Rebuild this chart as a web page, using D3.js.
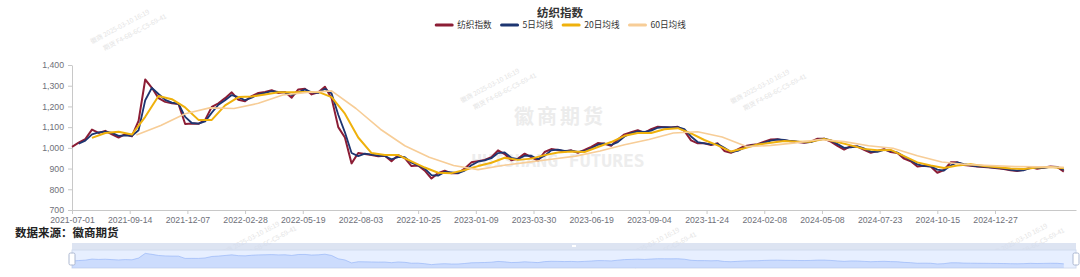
<!DOCTYPE html>
<meta charset="utf-8">
<style>
body { margin: 0; background: #fff; }
svg { display: block; font-family: "Liberation Sans", "Noto Sans CJK SC", sans-serif; }
.axis text { fill: #6e7079; font-size: 8.7px; }
.axis path, .axis line { stroke: #c8c8c8; }
</style>
<svg id="svg" width="1080" height="277"></svg>
<script src="https://d3js.org/d3.v7.min.js"></script>
<script>
// ---- data ----
var seriesNames = ["纺织指数", "5日均线", "20日均线", "60日均线"];
var tickDates = ["2021-07-01", "2021-09-14", "2021-12-07", "2022-02-28", "2022-05-19", "2022-08-03",
  "2022-10-25", "2023-01-09", "2023-03-30", "2023-06-19", "2023-09-04", "2023-11-24",
  "2024-02-08", "2024-05-08", "2024-07-23", "2024-10-15", "2024-12-27"];
var tickEvery = 52;       // trading days between labels
var dayCount = 906;       // trading days on the axis
var yTicks = [700, 800, 900, 1000, 1100, 1200, 1300, 1400];

// index, sampled every 6 trading days from day 0
var indexStart = 0, indexStep = 6;
var indexValues = [1005, 1025, 1042, 1088, 1072, 1082, 1065, 1050, 1066, 1056,
  1130, 1330, 1290, 1240, 1222, 1215, 1212, 1115, 1118, 1116,
  1135, 1198, 1215, 1240, 1268, 1232, 1225, 1250, 1265, 1270,
  1278, 1265, 1270, 1242, 1282, 1285, 1258, 1268, 1295, 1240,
  1100, 1050, 925, 975, 970, 965, 960, 962, 935, 965,
  950, 912, 915, 890, 852, 878, 890, 877, 878, 900,
  930, 936, 942, 955, 988, 970, 940, 948, 972, 955,
  938, 980, 994, 990, 982, 988, 976, 990, 1005, 1023,
  1020, 1010, 1040, 1065, 1075, 1085, 1072, 1090, 1102, 1100,
  1098, 1102, 1082, 1036, 1022, 1022, 1014, 1022, 985, 976,
  992, 1008, 1014, 1018, 1030, 1040, 1042, 1035, 1032, 1028,
  1025, 1030, 1044, 1044, 1030, 1010, 992, 1008, 1006, 990,
  976, 985, 994, 980, 975, 948, 935, 910, 914, 910,
  880, 893, 930, 930, 917, 913, 910, 908, 905, 902,
  898, 892, 888, 894, 907, 899, 905, 910, 908, 885];

var ma5Start = 6, ma5Step = 6;
var ma5Values = [1020, 1035, 1065, 1075, 1078, 1072, 1058, 1060, 1058,
  1085, 1230, 1290, 1260, 1232, 1218, 1213, 1150, 1120, 1117,
  1128, 1170, 1208, 1230, 1255, 1245, 1230, 1242, 1258, 1266,
  1274, 1270, 1268, 1255, 1268, 1282, 1268, 1265, 1285, 1262,
  1160, 1075, 975, 960, 972, 967, 962, 961, 945, 955,
  955, 928, 915, 900, 868, 866, 884, 882, 878, 890,
  916, 933, 940, 950, 975, 978, 952, 945, 962, 962,
  945, 962, 988, 991, 985, 986, 980, 985, 998, 1015,
  1021, 1014, 1028, 1055, 1071, 1080, 1077, 1083, 1097, 1100,
  1099, 1100, 1090, 1055, 1028, 1022, 1017, 1019, 1000, 980,
  985, 1001, 1011, 1016, 1025, 1035, 1041, 1038, 1033, 1030,
  1026, 1028, 1038, 1044, 1036, 1018, 1000, 1002, 1007, 997,
  982, 981, 990, 986, 977, 958, 940, 920, 912, 911,
  895, 890, 915, 930, 922, 915, 911, 909, 906, 903,
  900, 894, 890, 892, 902, 902, 903, 908, 908, 893];

var ma20Start = 18, ma20Step = 12;
var ma20Values = [1048, 1072, 1078, 1064, 1150, 1250, 1235, 1195, 1135, 1135,
  1205, 1245, 1248, 1258, 1268, 1268, 1270, 1270, 1245, 1165,
  1050, 975, 965, 965, 935, 905, 880, 878, 893, 912,
  928, 952, 942, 948, 965, 978, 982, 980, 1004, 1028,
  1058, 1072, 1072, 1090, 1095, 1070, 1038, 1012, 982, 998,
  1016, 1025, 1033, 1030, 1030, 1043, 1028, 1012, 995, 988,
  990, 960, 930, 915, 903, 915, 921, 912, 906, 900,
  898, 905, 907, 902];

var ma60Start = 58, ma60Step = 22;
var ma60Values = [1062, 1108, 1165, 1193, 1190, 1215, 1255, 1268, 1275, 1190,
  1090, 1010, 955, 915, 895, 915, 930, 945, 960, 985,
  1015, 1040, 1072, 1078, 1052, 1006, 1012, 1024, 1040, 1030,
  1010, 998, 962, 932, 920, 914, 910, 908, 906];

// ---- layout ----
var svg = d3.select("svg");
var plotLeft = 72, plotRight = 1076, plotTop = 65, plotBottom = 210;
var colors = ["#8c1d35", "#1d3571", "#efb10c", "#f7cd97"];
var widths = [2, 1.8, 2, 1.6];

var x = d3.scaleLinear().domain([0, dayCount - 1]).range([plotLeft, plotRight]);
var y = d3.scaleLinear().domain([700, 1400]).range([plotBottom, plotTop]);

function toPoints(start, step, values) {
  return values.map(function(v, i) { return { day: start + i * step, value: v }; });
}
var series = [
  toPoints(indexStart, indexStep, indexValues),
  toPoints(ma5Start, ma5Step, ma5Values),
  toPoints(ma20Start, ma20Step, ma20Values),
  toPoints(ma60Start, ma60Step, ma60Values)
];

// ---- watermarks ----
var wm = svg.append("g").attr("class", "watermark");
wm.append("text").attr("x", 560).attr("y", 124).attr("text-anchor", "middle")
  .style("font-family", "'Noto Sans CJK SC'").style("font-weight", 700)
  .style("font-size", "20px").style("fill", "#ececec").style("letter-spacing", "3px")
  .text("徽商期货");
wm.append("text").attr("x", 558).attr("y", 167).attr("text-anchor", "middle")
  .style("font-family", "'DejaVu Sans Mono'").style("font-weight", 700)
  .style("font-size", "18px").style("fill", "#ededed")
  .text("HUISHANG FUTURES");
var stamps = [[92, 44], [462, 103], [732, 104], [222, 256], [622, 262], [990, 258]];
stamps.forEach(function(p) {
  var g = wm.append("g").attr("transform", "translate(" + p[0] + "," + p[1] + ") rotate(-28)");
  g.append("text").attr("x", 0).attr("y", 0).style("font-size", "6.5px").style("fill", "#e4e4e4")
    .style("font-family", "'Noto Sans CJK SC'").text("徽商    2025-03-10    16:19");
  g.append("text").attr("x", 8).attr("y", 12).style("font-size", "6.5px").style("fill", "#e4e4e4")
    .style("font-family", "'Noto Sans CJK SC'").text("期货    F4-6B-6C-C5-69-41");
});

// ---- axes ----
svg.append("g").attr("class", "axis")
  .attr("transform", "translate(0," + plotBottom + ")")
  .call(d3.axisBottom(x)
    .tickValues(tickDates.map(function(d, i) { return i * tickEvery; }))
    .tickFormat(function(d, i) { return tickDates[i]; })
    .tickSize(4).tickSizeOuter(0).tickPadding(3));

svg.append("g").attr("class", "axis")
  .attr("transform", "translate(" + plotLeft + ",0)")
  .call(d3.axisLeft(y).tickValues(yTicks).tickFormat(d3.format(","))
    .tickSize(4).tickSizeOuter(0).tickPadding(4));

// ---- lines ----
var line = d3.line()
  .x(function(d) { return x(d.day); })
  .y(function(d) { return y(d.value); })
  .curve(d3.curveLinear);

svg.append("g").selectAll("path")
  .data(series)
  .enter().append("path")
  .attr("d", line)
  .attr("fill", "none")
  .attr("stroke", function(d, i) { return colors[i]; })
  .attr("stroke-width", function(d, i) { return widths[i]; })
  .attr("stroke-linejoin", "round");

// ---- title & legend ----
svg.append("text").attr("x", 560).attr("y", 17).attr("text-anchor", "middle")
  .style("font-family", "'Noto Sans CJK SC'").style("font-weight", 700)
  .style("font-size", "11.5px").style("fill", "#333")
  .text("纺织指数");

var legend = svg.append("g").attr("transform", "translate(0,25)");
var items = legend.selectAll("g").data(seriesNames).enter().append("g");
items.append("line").attr("x1", 0).attr("x2", 16).attr("y1", 0).attr("y2", 0)
  .attr("stroke", function(d, i) { return colors[i]; }).attr("stroke-width", 3)
  .attr("stroke-linecap", "round");
items.append("text").attr("x", 21).attr("y", 3.2)
  .style("font-family", "'Noto Sans CJK SC'").style("font-size", "8.6px").style("fill", "#333")
  .text(function(d) { return d; });
var widthsL = [];
items.each(function() { widthsL.push(21 + d3.select(this).select("text").node().getComputedTextLength()); });
var total = d3.sum(widthsL) + 10 * (widthsL.length - 1);
var cx = 561 - total / 2;
items.attr("transform", function(d, i) {
  var pos = cx; cx += widthsL[i] + 10; return "translate(" + pos + ",0)";
});

// ---- source ----
svg.append("text").attr("x", 15).attr("y", 237)
  .style("font-family", "'Noto Sans CJK SC'").style("font-weight", 700)
  .style("font-size", "11.5px").style("fill", "#222")
  .text("数据来源：徽商期货");

// ---- data zoom slider ----
var sTop = 243, sMid = 250, sBot = 268;
var slider = svg.append("g");
slider.append("rect").attr("x", plotLeft).attr("y", sMid).attr("width", plotRight - plotLeft).attr("height", sBot - sMid)
  .attr("fill", "#e7efff").attr("stroke", "#d2dbee");
slider.append("rect").attr("x", plotLeft).attr("y", sTop).attr("width", plotRight - plotLeft).attr("height", sMid - sTop)
  .attr("fill", "#d2dbee").attr("opacity", 0.75);
var ext = d3.extent(indexValues), pad = (ext[1] - ext[0]) * 0.3;
var ys = d3.scaleLinear().domain([ext[0] - pad, ext[1] + pad]).range([sBot, sMid]);
var shadow = series[0];
slider.append("path").datum(shadow)
  .attr("d", d3.area().x(function(d) { return x(d.day); }).y0(sBot).y1(function(d) { return ys(d.value); }))
  .attr("fill", "#8fb0f7").attr("opacity", 0.3);
slider.append("path").datum(shadow)
  .attr("d", d3.line().x(function(d) { return x(d.day); }).y(function(d) { return ys(d.value); }))
  .attr("fill", "none").attr("stroke", "#8fb0f7").attr("stroke-width", 0.6);
[plotLeft, plotRight].forEach(function(hx) {
  slider.append("rect").attr("x", hx - 3).attr("y", 253).attr("width", 6).attr("height", 12)
    .attr("rx", 1.5).attr("fill", "#fff").attr("stroke", "#acb8d1");
});
slider.append("rect").attr("x", (plotLeft + plotRight) / 2 - 2).attr("y", sTop + 2).attr("width", 4).attr("height", 2)
  .attr("fill", "#fff");
</script>
